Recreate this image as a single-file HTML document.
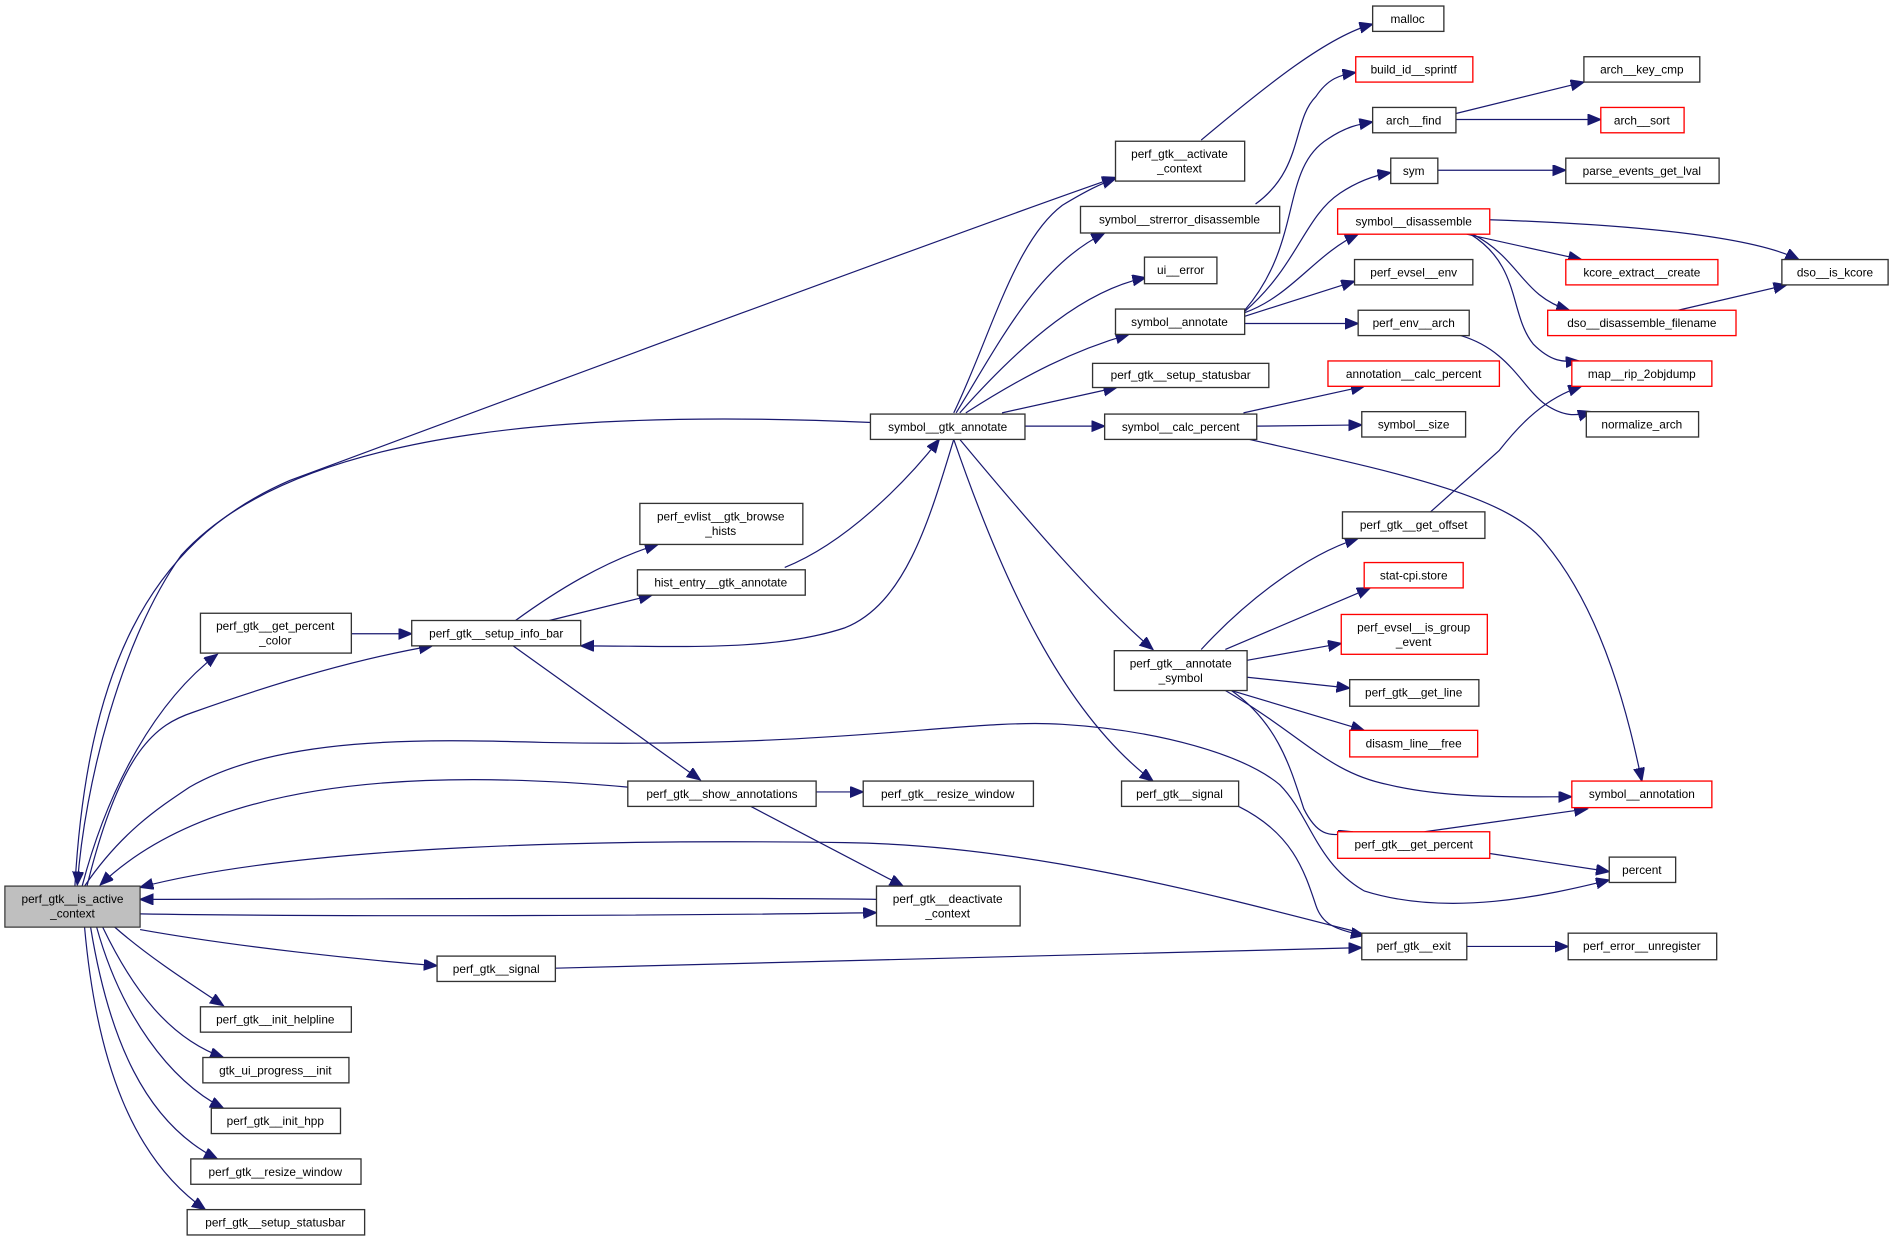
<!DOCTYPE html>
<html><head><meta charset="utf-8"><style>
html,body{margin:0;padding:0;background:#fff;}
svg{display:block;}
text{font-family:"Liberation Sans",sans-serif;font-size:9.8px;fill:#000;text-anchor:middle;}
.e{fill:none;stroke:#191970;stroke-width:1;}
.n{fill:#fff;stroke:#333;stroke-width:1.1;}
.r{fill:#fff;stroke:#ff0000;stroke-width:1.1;}
</style></head><body>
<svg width="1893" height="1241" viewBox="0 0 1568 1028" xmlns="http://www.w3.org/2000/svg">
<defs><marker id="a" markerUnits="userSpaceOnUse" markerWidth="12" markerHeight="10" refX="11" refY="4.5" orient="auto"><path d="M0,0 L11,4.5 L0,9 z" fill="#191970" stroke="#191970"/></marker></defs>
<g marker-end="url(#a)">
<path class="e" d="M62,734 C72,560 120,450 240,398 C450,320 800,190 924,147"/>
<path class="e" d="M722,350 C500,340 250,350 150,460 C100,530 70,650 64,733"/>
<path class="e" d="M520,652 C330,635 170,650 83,733"/>
<path class="e" d="M1128,773 C1000,740 850,700 700,698 C500,695 250,700 116,735"/>
<path class="e" d="M726,745 C600,743 250,745 116,745"/>
<path class="e" d="M116,757 C300,760 600,758 726,756"/>
<path class="e" d="M116,770 C200,785 300,795 362,800"/>
<path class="e" d="M460,802 L1128,785"/>
<path class="e" d="M70,734 C100,690 130,670 157,652 C230,610 350,612 450,615 C700,620 800,595 880,600 C960,605 1030,625 1060,650 C1085,675 1090,715 1130,738 C1200,760 1280,742 1333,729"/>
<path class="e" d="M68,734 C90,650 130,580 180,542"/>
<path class="e" d="M72,734 C100,620 130,600 160,590 C230,565 300,545 358,535"/>
<path class="e" d="M291,525 L341,525"/>
<path class="e" d="M427,514 C460,490 500,465 545,451"/>
<path class="e" d="M455,514 L540,493"/>
<path class="e" d="M650,470 C700,450 750,400 778,364"/>
<path class="e" d="M790,364 C770,430 750,500 700,520 C640,540 560,535 481,535"/>
<path class="e" d="M425,535 L580,646"/>
<path class="e" d="M676,656 L715,656"/>
<path class="e" d="M620,667 L748,734"/>
<path class="e" d="M95,768 C120,790 150,810 185,833"/>
<path class="e" d="M85,768 C110,820 140,860 185,876"/>
<path class="e" d="M80,768 C100,840 140,895 185,918"/>
<path class="e" d="M75,768 C90,860 120,930 180,960"/>
<path class="e" d="M70,768 C80,880 110,960 170,1002"/>
<path class="e" d="M790,342 C820,280 840,200 880,170 C900,158 912,152 924,148"/>
<path class="e" d="M792,342 C830,280 860,220 915,193"/>
<path class="e" d="M795,342 C850,280 900,240 949,230"/>
<path class="e" d="M800,342 C850,310 890,290 935,277"/>
<path class="e" d="M830,342 L925,321"/>
<path class="e" d="M849,353 L915,353"/>
<path class="e" d="M795,364 C850,430 910,500 955,538"/>
<path class="e" d="M790,364 C830,480 880,590 955,647"/>
<path class="e" d="M995,116 C1050,70 1100,30 1137,20"/>
<path class="e" d="M1040,169 C1080,140 1070,100 1090,80 C1100,65 1110,62 1123,60"/>
<path class="e" d="M1031,257 C1080,200 1060,140 1100,115 C1115,105 1125,103 1137,101"/>
<path class="e" d="M1031,258 C1075,220 1080,180 1110,160 C1125,150 1140,145 1152,143"/>
<path class="e" d="M1031,259 C1070,245 1090,210 1125,194"/>
<path class="e" d="M1031,262 L1122,233"/>
<path class="e" d="M1031,268 L1125,268"/>
<path class="e" d="M1206,94 L1312,68"/>
<path class="e" d="M1206,99 L1326,99"/>
<path class="e" d="M1191,141 L1297,141"/>
<path class="e" d="M1215,194 L1310,215"/>
<path class="e" d="M1234,182 C1350,186 1450,195 1490,215"/>
<path class="e" d="M1220,194 C1260,215 1260,245 1300,257"/>
<path class="e" d="M1218,194 C1260,220 1250,260 1270,285 C1285,300 1295,300 1308,299"/>
<path class="e" d="M1390,257 L1480,236"/>
<path class="e" d="M1210,278 C1250,290 1260,320 1280,335 C1295,345 1305,345 1318,341"/>
<path class="e" d="M1030,342 L1130,320"/>
<path class="e" d="M1041,353 L1128,352"/>
<path class="e" d="M1035,364 C1150,390 1250,410 1280,450 C1330,510 1350,600 1360,647"/>
<path class="e" d="M1185,424 L1242,373 C1260,350 1280,330 1310,320"/>
<path class="e" d="M995,538 C1030,500 1080,460 1125,446"/>
<path class="e" d="M1015,538 L1135,487"/>
<path class="e" d="M1033,547 L1111,533"/>
<path class="e" d="M1033,561 L1118,570"/>
<path class="e" d="M1020,572 L1130,605"/>
<path class="e" d="M1015,572 C1080,610 1100,640 1150,650 C1200,662 1260,660 1302,660"/>
<path class="e" d="M1020,572 C1060,600 1070,640 1080,670 C1090,690 1100,695 1120,689"/>
<path class="e" d="M1026,668 C1070,690 1080,720 1090,750 C1095,765 1105,770 1130,775"/>
<path class="e" d="M1180,689 L1315,670"/>
<path class="e" d="M1234,707 L1333,722"/>
<path class="e" d="M1215,784 L1299,784"/>
</g>
<rect x="4" y="734" width="112" height="34" fill="#bfbfbf" stroke="#333"/>
<text x="60" y="748">perf_gtk__is_active</text><text x="60" y="760">_context</text>
<rect class="n" x="166" y="834" width="125" height="21"/><text x="228" y="848">perf_gtk__init_helpline</text>
<rect class="n" x="168" y="876" width="121" height="21"/><text x="228" y="890">gtk_ui_progress__init</text>
<rect class="n" x="175" y="918" width="107" height="21"/><text x="228" y="932">perf_gtk__init_hpp</text>
<rect class="n" x="158" y="960" width="141" height="21"/><text x="228" y="974">perf_gtk__resize_window</text>
<rect class="n" x="155" y="1002" width="147" height="21"/><text x="228" y="1016">perf_gtk__setup_statusbar</text>
<rect class="n" x="166" y="508" width="125" height="33"/><text x="228" y="522">perf_gtk__get_percent</text><text x="228" y="534">_color</text>
<rect class="n" x="341" y="514" width="140" height="21"/><text x="411" y="528">perf_gtk__setup_info_bar</text>
<rect class="n" x="530" y="417" width="135" height="34"/><text x="597" y="431">perf_evlist__gtk_browse</text><text x="597" y="443">_hists</text>
<rect class="n" x="528" y="472" width="139" height="21"/><text x="597" y="486">hist_entry__gtk_annotate</text>
<rect class="n" x="520" y="647" width="156" height="21"/><text x="598" y="661">perf_gtk__show_annotations</text>
<rect class="n" x="715" y="647" width="141" height="21"/><text x="785" y="661">perf_gtk__resize_window</text>
<rect class="n" x="726" y="734" width="119" height="33"/><text x="785" y="748">perf_gtk__deactivate</text><text x="785" y="760">_context</text>
<rect class="n" x="362" y="792" width="98" height="21"/><text x="411" y="806">perf_gtk__signal</text>
<rect class="n" x="721" y="343" width="128" height="21"/><text x="785" y="357">symbol__gtk_annotate</text>
<rect class="n" x="924" y="117" width="107" height="33"/><text x="977" y="131">perf_gtk__activate</text><text x="977" y="143">_context</text>
<rect class="n" x="895" y="171" width="165" height="22"/><text x="977" y="185">symbol__strerror_disassemble</text>
<rect class="n" x="948" y="213" width="60" height="22"/><text x="978" y="227">ui__error</text>
<rect class="n" x="924" y="256" width="107" height="21"/><text x="977" y="270">symbol__annotate</text>
<rect class="n" x="905" y="301" width="146" height="20"/><text x="978" y="314">perf_gtk__setup_statusbar</text>
<rect class="n" x="915" y="343" width="126" height="21"/><text x="978" y="357">symbol__calc_percent</text>
<rect class="n" x="923" y="539" width="110" height="33"/><text x="978" y="553">perf_gtk__annotate</text><text x="978" y="565">_symbol</text>
<rect class="n" x="929" y="647" width="97" height="21"/><text x="977" y="661">perf_gtk__signal</text>
<rect class="n" x="1137" y="5" width="59" height="21"/><text x="1166" y="19">malloc</text>
<rect class="r" x="1123" y="47" width="97" height="21"/><text x="1171" y="61">build_id__sprintf</text>
<rect class="n" x="1137" y="89" width="69" height="21"/><text x="1171" y="103">arch__find</text>
<rect class="n" x="1152" y="131" width="39" height="21"/><text x="1171" y="145">sym</text>
<rect class="r" x="1108" y="173" width="126" height="21"/><text x="1171" y="187">symbol__disassemble</text>
<rect class="n" x="1122" y="215" width="98" height="21"/><text x="1171" y="229">perf_evsel__env</text>
<rect class="n" x="1125" y="257" width="92" height="21"/><text x="1171" y="271">perf_env__arch</text>
<rect class="r" x="1100" y="299" width="142" height="21"/><text x="1171" y="313">annotation__calc_percent</text>
<rect class="n" x="1128" y="341" width="86" height="21"/><text x="1171" y="355">symbol__size</text>
<rect class="n" x="1312" y="47" width="96" height="21"/><text x="1360" y="61">arch__key_cmp</text>
<rect class="r" x="1326" y="89" width="69" height="21"/><text x="1360" y="103">arch__sort</text>
<rect class="n" x="1297" y="131" width="127" height="21"/><text x="1360" y="145">parse_events_get_lval</text>
<rect class="r" x="1297" y="215" width="126" height="21"/><text x="1360" y="229">kcore_extract__create</text>
<rect class="n" x="1476" y="215" width="88" height="21"/><text x="1520" y="229">dso__is_kcore</text>
<rect class="r" x="1282" y="257" width="156" height="21"/><text x="1360" y="271">dso__disassemble_filename</text>
<rect class="r" x="1302" y="299" width="116" height="21"/><text x="1360" y="313">map__rip_2objdump</text>
<rect class="n" x="1314" y="341" width="93" height="21"/><text x="1360" y="355">normalize_arch</text>
<rect class="n" x="1112" y="424" width="118" height="22"/><text x="1171" y="438">perf_gtk__get_offset</text>
<rect class="r" x="1130" y="466" width="82" height="21"/><text x="1171" y="480">stat-cpi.store</text>
<rect class="r" x="1111" y="509" width="121" height="33"/><text x="1171" y="523">perf_evsel__is_group</text><text x="1171" y="535">_event</text>
<rect class="n" x="1118" y="563" width="107" height="22"/><text x="1171" y="577">perf_gtk__get_line</text>
<rect class="r" x="1118" y="605" width="106" height="22"/><text x="1171" y="619">disasm_line__free</text>
<rect class="r" x="1302" y="647" width="116" height="22"/><text x="1360" y="661">symbol__annotation</text>
<rect class="r" x="1108" y="689" width="126" height="22"/><text x="1171" y="703">perf_gtk__get_percent</text>
<rect class="n" x="1333" y="710" width="55" height="21"/><text x="1360" y="724">percent</text>
<rect class="n" x="1128" y="773" width="87" height="22"/><text x="1171" y="787">perf_gtk__exit</text>
<rect class="n" x="1299" y="773" width="123" height="22"/><text x="1360" y="787">perf_error__unregister</text>
</svg>
</body></html>
